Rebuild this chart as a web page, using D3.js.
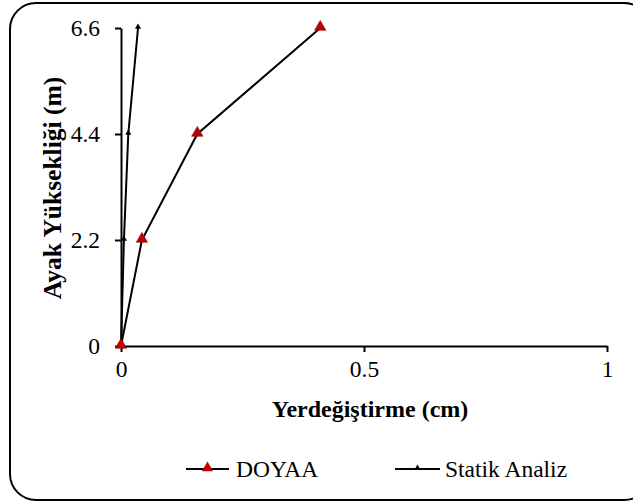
<!DOCTYPE html>
<meta charset="utf-8">
<style>
body {
  margin: 0;
  background: #fff;
}
.axis path, .axis line {
  stroke: #000;
  stroke-width: 2px;
}
.series {
  fill: none;
  stroke: #000;
  stroke-width: 2px;
}
</style>
<body>
<script src="https://cdn.jsdelivr.net/npm/d3@7"></script>
<script>

var width = 633,
    height = 502,
    font = "Liberation Serif";

// data
var heights = [0, 2.2, 4.4, 6.6];
var doyaa = [0, 0.043, 0.157, 0.41];
var statik = [0, 0.006, 0.015, 0.035];
var xTicks = [0, 0.5, 1];
var yTicks = [0, 2.2, 4.4, 6.6];
var seriesNames = ["DOYAA", "Statik Analiz"];

var x = d3.scaleLinear().domain([0, 1]).range([121, 607]);
var y = d3.scaleLinear().domain([0, 6.6]).range([346, 28]);

var svg = d3.select("body").append("svg")
    .attr("width", width)
    .attr("height", height);

// rounded frame
svg.append("rect")
    .attr("x", 10)
    .attr("y", 3)
    .attr("width", 640)
    .attr("height", 497)
    .attr("rx", 26)
    .style("fill", "#fff")
    .style("stroke", "#000")
    .style("stroke-width", 2);

var xAxis = svg.append("g")
    .attr("class", "axis")
    .attr("transform", "translate(0," + y(0) + ")")
    .call(d3.axisBottom(x).tickValues(xTicks).tickSize(6).tickSizeOuter(0).tickPadding(6)
      .tickFormat(function(d) { return d3.format("")(d); }));

var yAxis = svg.append("g")
    .attr("class", "axis")
    .attr("transform", "translate(" + x(0) + ",0)")
    .call(d3.axisLeft(y).tickValues(yTicks).tickSize(6).tickSizeOuter(0).tickPadding(15)
      .tickFormat(function(d) { return d === 0 ? "0" : d3.format(".1f")(d); }));

svg.selectAll(".axis").attr("font-family", font).attr("font-size", 23.5);
yAxis.selectAll("text").attr("dy", "0.33em");
xAxis.selectAll("text").attr("dy", "0.8em");

// axis titles
svg.append("text")
    .attr("x", 370)
    .attr("y", 417)
    .attr("text-anchor", "middle")
    .attr("font-family", font)
    .attr("font-size", 24)
    .attr("font-weight", "bold")
    .text("Yerdeğiştirme (cm)");

svg.append("text")
    .attr("transform", "translate(61,188) rotate(-90)")
    .attr("text-anchor", "middle")
    .attr("font-family", font)
    .attr("font-size", 25.5)
    .attr("font-weight", "bold")
    .text("Ayak Yüksekliği (m)");

var line = d3.line()
    .x(function(d) { return x(d[0]); })
    .y(function(d) { return y(d[1]); });

var tri = d3.symbol().type(d3.symbolTriangle);

function drawSeries(vals, size, color) {
  var pts = vals.map(function(v, i) { return [v, heights[i]]; });
  svg.append("path").datum(pts).attr("class", "series").attr("d", line);
  svg.selectAll(null).data(pts).enter().append("path")
      .attr("transform", function(d) { return "translate(" + x(d[0]) + "," + (y(d[1]) - 1) + ")"; })
      .attr("d", tri.size(size))
      .style("fill", color)
      .style("stroke", color === "#000" ? "none" : "#8a0000")
      .style("stroke-width", 0.6);
}

drawSeries(statik, 16, "#000");
drawSeries(doyaa, 55, "#c00000");

// legend
var legend = [
  {name: seriesNames[0], x0: 186, x1: 229, size: 55, color: "#c00000", tx: 236},
  {name: seriesNames[1], x0: 395, x1: 440, size: 16, color: "#000", tx: 445}
];
legend.forEach(function(l) {
  svg.append("line")
      .attr("x1", l.x0).attr("x2", l.x1)
      .attr("y1", 469).attr("y2", 469)
      .style("stroke", "#000").style("stroke-width", 2);
  svg.append("path")
      .attr("transform", "translate(" + ((l.x0 + l.x1) / 2) + ",468)")
      .attr("d", tri.size(l.size))
      .style("fill", l.color);
  svg.append("text")
      .attr("x", l.tx)
      .attr("y", 477)
      .attr("font-family", font)
      .attr("font-size", 23.5)
      .text(l.name);
});

</script>
